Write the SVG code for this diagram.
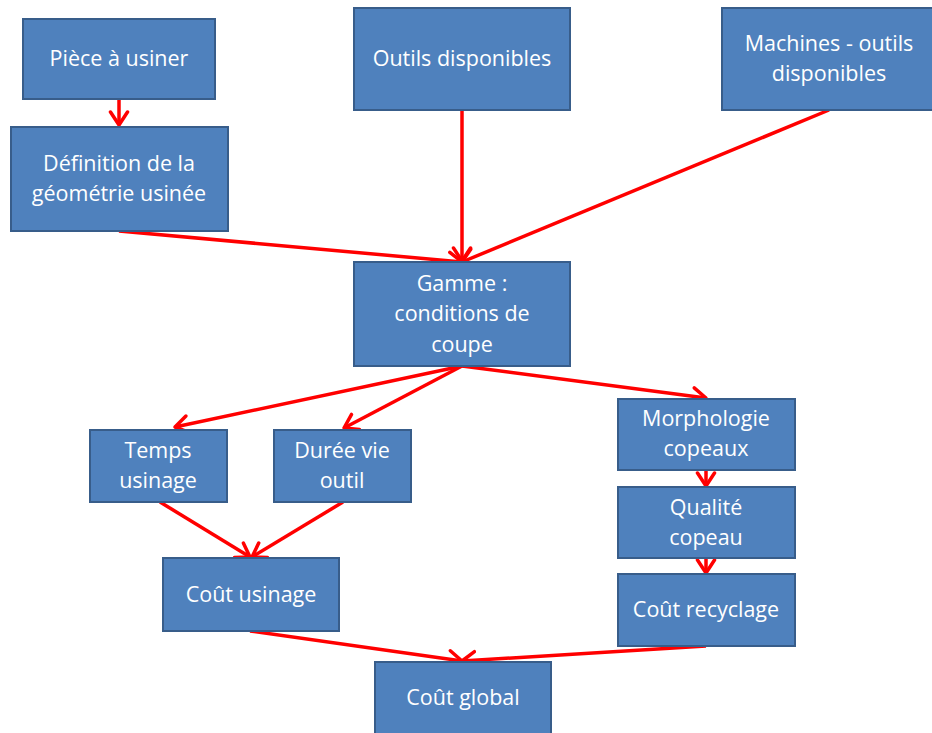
<svg xmlns="http://www.w3.org/2000/svg" width="932" height="733" viewBox="0 0 932 733">
<style>
.box{fill:#4F81BD;stroke:#385D8A;stroke-width:2}
.t{fill:#fff;font-family:"Open Sans","Liberation Sans",sans-serif;font-size:21.5px;text-anchor:middle}
.c{stroke:#FF0000;stroke-width:3.5;fill:none;marker-end:url(#ah)}
</style>
<defs>
<marker id="ah" markerUnits="userSpaceOnUse" markerWidth="30" markerHeight="30" refX="15" refY="10" orient="auto" viewBox="0 0 30 20">
<path d="M2,1.5 L15,10 L2,18.5" fill="none" stroke="#FF0000" stroke-width="3.5" stroke-linecap="round" stroke-linejoin="round"/>
</marker>
</defs>
<rect width="932" height="733" fill="#fff"/>
<g id="connectors">
<path class="c" d="M119,99 L119,125"/>
<path class="c" d="M119,231 L462,262"/>
<path class="c" d="M462,110 L462,261"/>
<path class="c" d="M829,110 L462,262"/>
<path class="c" d="M462,366 L175,427"/>
<path class="c" d="M462,366 L344,428"/>
<path class="c" d="M462,366 L706,398"/>
<path class="c" d="M706,470 L706,486"/>
<path class="c" d="M706,558 L706,573"/>
<path class="c" d="M160,502 L250,557"/>
<path class="c" d="M343,502 L252,557"/>
<path class="c" d="M250,631 L462,661"/>
<path class="c" d="M706,646 L462,661"/>
</g>
<g id="piece"><rect class="box" x="23" y="19" width="192" height="80"/><text class="t" x="119" y="66">Pièce à usiner</text></g>
<g id="definition"><rect class="box" x="11" y="127" width="217" height="104"/><text class="t" x="119" y="171">Définition de la</text><text class="t" x="119" y="201">géométrie usinée</text></g>
<g id="outils"><rect class="box" x="354" y="8" width="216" height="102"/><text class="t" x="462" y="66">Outils disponibles</text></g>
<g id="machines"><rect class="box" x="722" y="8" width="212" height="102"/><text class="t" x="829" y="51">Machines - outils</text><text class="t" x="829" y="81">disponibles</text></g>
<g id="gamme"><rect class="box" x="354" y="262" width="216" height="104"/><text class="t" x="462" y="291">Gamme :</text><text class="t" x="462" y="321">conditions de</text><text class="t" x="462" y="352">coupe</text></g>
<g id="temps"><rect class="box" x="90" y="430" width="137" height="72"/><text class="t" x="158" y="458">Temps</text><text class="t" x="158" y="488">usinage</text></g>
<g id="duree"><rect class="box" x="274" y="430" width="137" height="72"/><text class="t" x="342" y="458">Durée vie</text><text class="t" x="342" y="488">outil</text></g>
<g id="morphologie"><rect class="box" x="618" y="399" width="177" height="71"/><text class="t" x="706" y="426">Morphologie</text><text class="t" x="706" y="456">copeaux</text></g>
<g id="qualite"><rect class="box" x="618" y="487" width="177" height="71"/><text class="t" x="706" y="515">Qualité</text><text class="t" x="706" y="545">copeau</text></g>
<g id="recyclage"><rect class="box" x="618" y="574" width="177" height="72"/><text class="t" x="706" y="617">Coût recyclage</text></g>
<g id="usinage"><rect class="box" x="163" y="558" width="176" height="73"/><text class="t" x="251" y="602">Coût usinage</text></g>
<g id="global"><rect class="box" x="375" y="662" width="176" height="80"/><text class="t" x="463" y="705">Coût global</text></g>
</svg>
